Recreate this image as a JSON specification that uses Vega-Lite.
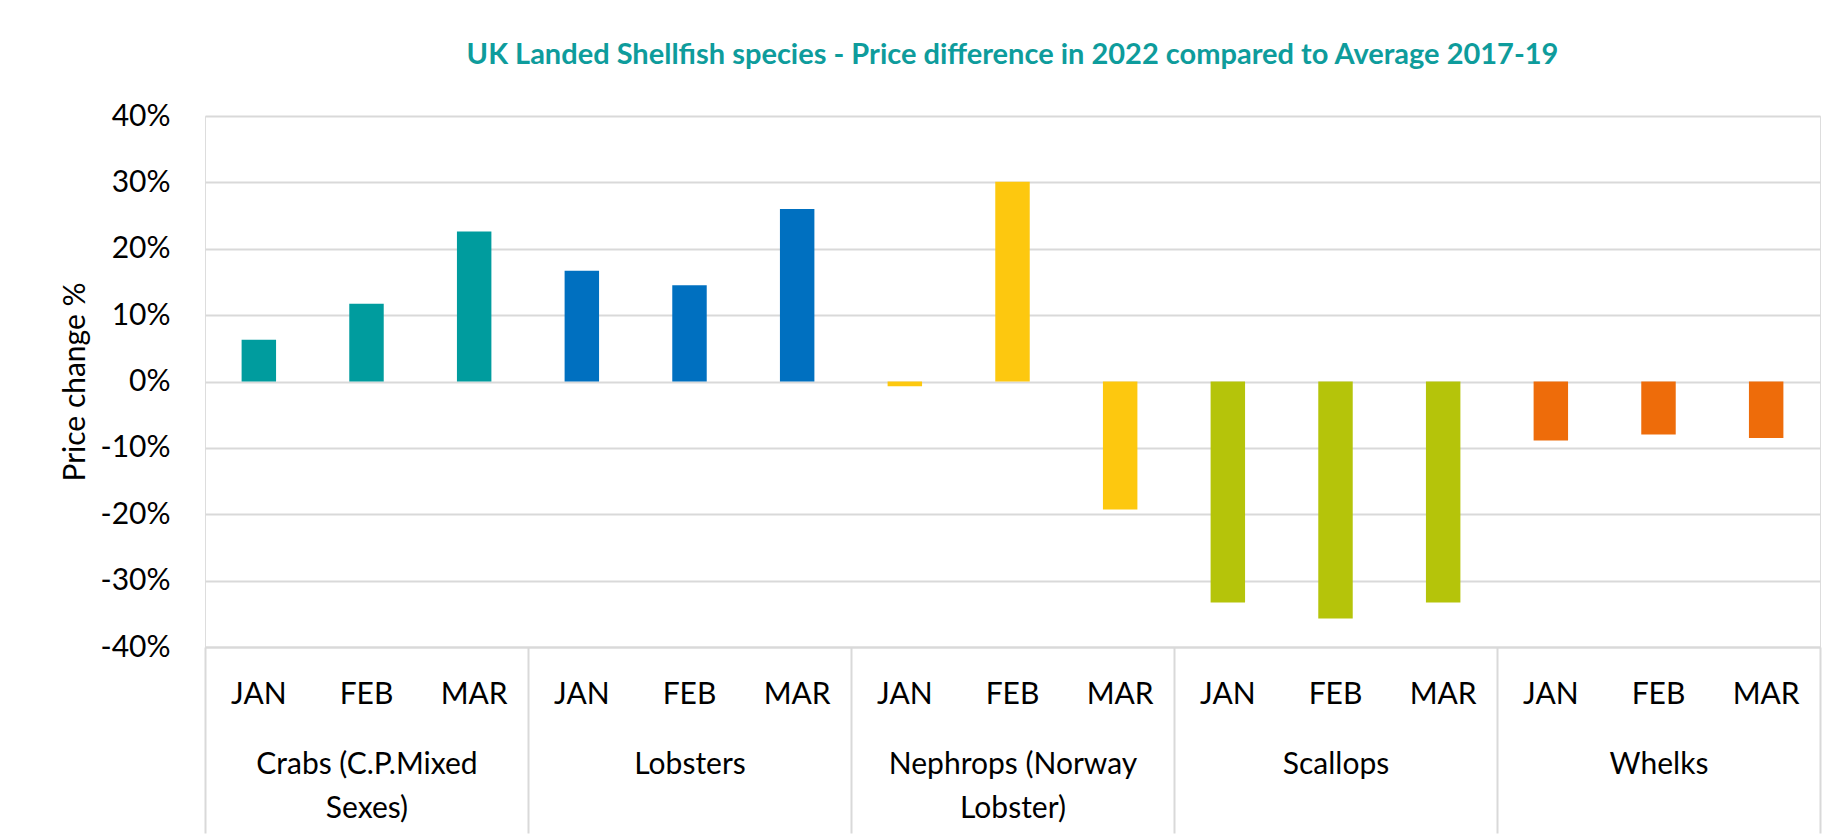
{
  "$schema": "https://vega.github.io/schema/vega-lite/v6.json",
  "width": 1615,
  "height": 531,
  "autosize": {"type": "none"},
  "padding": {"left": 205, "top": 116, "right": 21, "bottom": 193},
  "background": "#ffffff",
  "title": {
    "text": "UK Landed Shellfish species - Price difference in 2022 compared to Average 2017-19",
    "font": "Lato",
    "fontSize": 29,
    "fontWeight": "bold",
    "color": "#0E9C9C",
    "anchor": "middle",
    "baseline": "alphabetic",
    "offset": 8
  },
  "data": {
    "values": [
      {"species": "Crabs (C.P.Mixed Sexes)", "month": "JAN", "value": 0.063},
      {"species": "Crabs (C.P.Mixed Sexes)", "month": "FEB", "value": 0.117},
      {"species": "Crabs (C.P.Mixed Sexes)", "month": "MAR", "value": 0.226},
      {"species": "Lobsters", "month": "JAN", "value": 0.167},
      {"species": "Lobsters", "month": "FEB", "value": 0.145},
      {"species": "Lobsters", "month": "MAR", "value": 0.26},
      {"species": "Nephrops (Norway Lobster)", "month": "JAN", "value": -0.007},
      {"species": "Nephrops (Norway Lobster)", "month": "FEB", "value": 0.301},
      {"species": "Nephrops (Norway Lobster)", "month": "MAR", "value": -0.193},
      {"species": "Scallops", "month": "JAN", "value": -0.333},
      {"species": "Scallops", "month": "FEB", "value": -0.357},
      {"species": "Scallops", "month": "MAR", "value": -0.333},
      {"species": "Whelks", "month": "JAN", "value": -0.089},
      {"species": "Whelks", "month": "FEB", "value": -0.08},
      {"species": "Whelks", "month": "MAR", "value": -0.085}
    ]
  },
  "transform": [{"calculate": "datum.species + '|' + datum.month", "as": "key"}],
  "layer": [
    {
      "mark": {"type": "bar"},
      "encoding": {
        "x": {
          "field": "key",
          "type": "nominal",
          "sort": null,
          "scale": {"paddingInner": 0.68, "paddingOuter": 0.34},
          "axis": {
            "orient": "bottom",
            "title": null,
            "labelExpr": "split(datum.value, '|')[1]",
            "labelAngle": 0,
            "labelFont": "Lato",
            "labelFontSize": 30,
            "labelColor": "#000000",
            "labelPadding": 32,
            "ticks": false,
            "domain": true,
            "domainColor": "#d9d9d9",
            "domainWidth": 2,
            "grid": false
          }
        },
        "y": {
          "field": "value",
          "type": "quantitative",
          "scale": {"domain": [-0.4, 0.4], "nice": false},
          "axis": {
            "title": "Price change %",
            "titleFont": "Lato",
            "titleFontSize": 30,
            "titleFontWeight": "normal",
            "titleColor": "#000000",
            "titlePadding": 10,
            "values": [-0.4, -0.3, -0.2, -0.1, 0, 0.1, 0.2, 0.3, 0.4],
            "format": ".0%",
            "labelExpr": "replace(datum.label, '\u2212', '-')",
            "labelFont": "Lato",
            "labelFontSize": 30,
            "labelColor": "#000000",
            "labelPadding": 35,
            "ticks": false,
            "domain": false,
            "grid": true,
            "gridColor": "#d9d9d9",
            "gridWidth": 2
          }
        },
        "color": {
          "field": "species",
          "type": "nominal",
          "scale": {
            "domain": ["Crabs (C.P.Mixed Sexes)", "Lobsters", "Nephrops (Norway Lobster)", "Scallops", "Whelks"],
            "range": ["#009C9E", "#0070C0", "#FDC80F", "#B5C40A", "#EE6C0A"]
          },
          "legend": null
        }
      }
    },
    {
      "mark": {"type": "point", "opacity": 0},
      "encoding": {
        "x": {
          "field": "species",
          "type": "nominal",
          "sort": null,
          "scale": {"padding": 0},
          "axis": {
            "orient": "bottom",
            "title": null,
            "tickBand": "extent",
            "ticks": true,
            "tickSize": 186,
            "tickColor": "#d9d9d9",
            "tickWidth": 2,
            "domain": false,
            "grid": false,
            "labelAngle": 0,
            "labelFont": "Lato",
            "labelFontSize": 30,
            "labelColor": "#000000",
            "labelPadding": -84,
            "labelLineHeight": 44,
            "labelLimit": 400,
            "labelExpr": "datum.value == 'Crabs (C.P.Mixed Sexes)' ? ['Crabs (C.P.Mixed', 'Sexes)'] : datum.value == 'Nephrops (Norway Lobster)' ? ['Nephrops (Norway', 'Lobster)'] : datum.value"
          }
        }
      }
    }
  ],
  "resolve": {"scale": {"x": "independent"}}
}
